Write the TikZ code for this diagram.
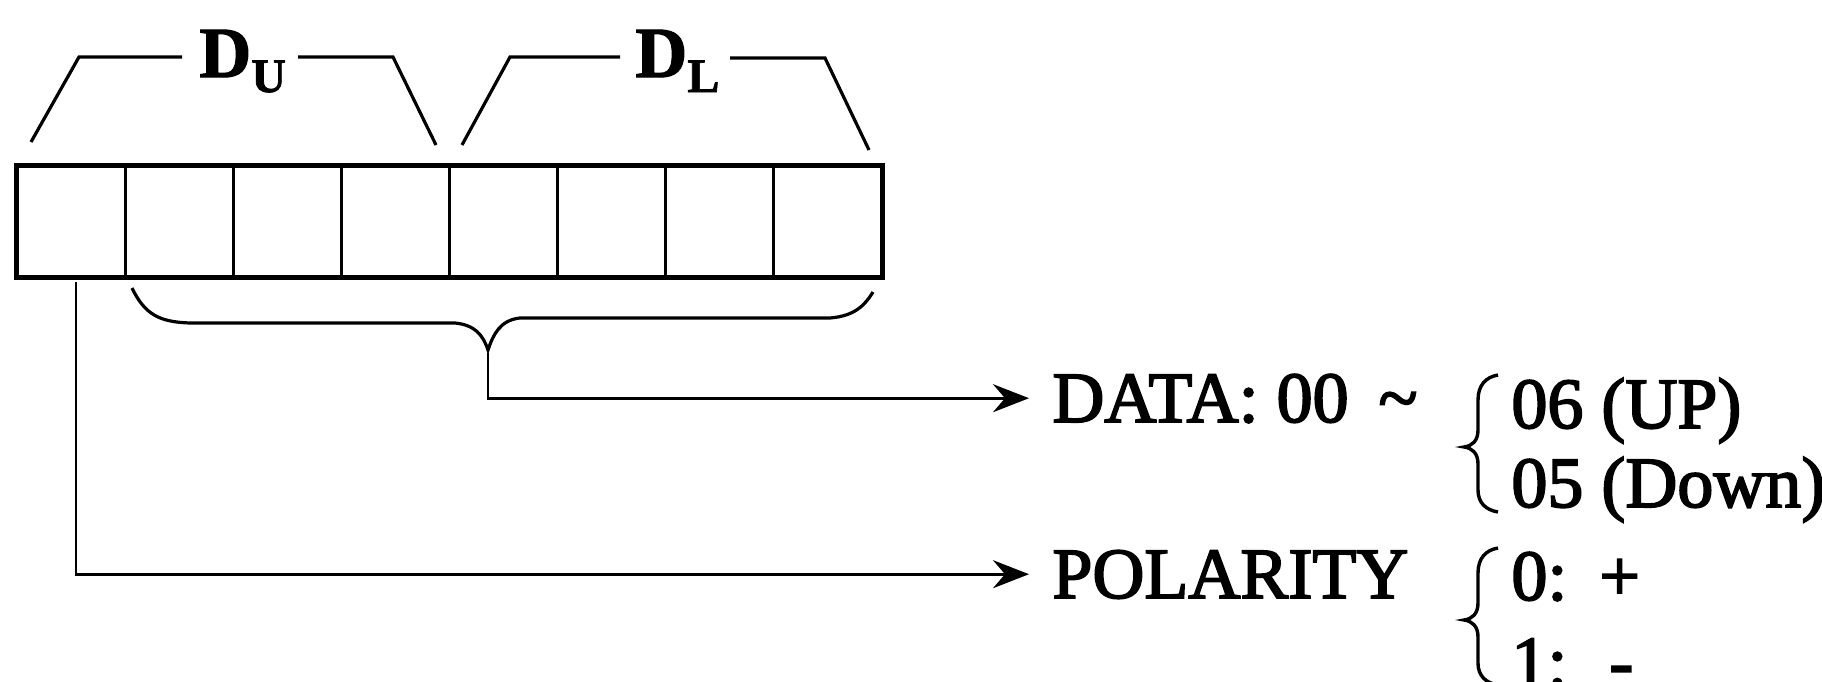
\documentclass[tikz,border=0pt]{standalone}
\usepackage{fontspec}
\setmainfont{Liberation Serif}[FakeBold=2.5]
\newfontfamily\heavyserif{Liberation Serif}[BoldFont={Liberation Serif Bold}, BoldFeatures={FakeBold=1.5}]
\usetikzlibrary{arrows.meta}
\tikzset{
  cellbox/.style={draw, line width=1.3pt, minimum width=54pt, minimum height=55pt, inner sep=0pt, anchor=north west},
  outline/.style={line width=2pt},
  bracket/.style={line width=1.6pt},
  conn/.style={line width=1.4pt, -{Stealth[length=18pt,width=14pt,inset=6pt]}},
  lbl/.style={font=\fontsize{36}{40}\selectfont\addfontfeature{FakeBold=2.5}, inner sep=0pt, anchor=base west},
  txt/.style={font=\fontsize{36}{40}\selectfont\addfontfeature{FakeBold=2.5}, text height=23.8pt, text depth=0pt, inner xsep=11.5pt, inner ysep=0pt, anchor=base west},
  curlyb/.pic={\draw[line width=1.7pt] (0,0) .. controls (-12,2) and (-20,10) .. (-20,25) -- (-20,55) .. controls (-20,66) and (-26,71) .. (-34,72) .. controls (-26,73) and (-20,78) .. (-20,89) -- (-20,115) .. controls (-20,128) and (-12,135) .. (0,137);}
}
\begin{document}
\begin{tikzpicture}[x=0.5pt,y=-0.5pt]
\useasboundingbox (0,0) rectangle (1822,681);
\clip (0,0) rectangle (1822,681);
% register cells
\foreach \i in {1,...,8} \node[cellbox] (c\i) at ({16+108*(\i-1)},165) {};
\draw[outline] (c1.north west) rectangle (c8.south east);
% upper labels and brackets
\node[inner sep=0pt, anchor=base west] (du) at (199,77) {\heavyserif\fontsize{36}{40}\selectfont\bfseries D\raisebox{-7.5pt}{\fontsize{24}{26}\selectfont U}};
\node[inner sep=0pt, anchor=base west] (dl) at (635,77) {\heavyserif\fontsize{36}{40}\selectfont\bfseries D\raisebox{-7.5pt}{\fontsize{24}{26}\selectfont L}};
\draw[bracket] (31,142) -- (79,57) -- (182,57);
\draw[bracket] (298,57) -- (393,57) -- (436,145);
\draw[bracket] (462,145) -- (510,57) -- (620,57);
\draw[bracket] (730,58) -- (825,58) -- (869,150);
% lower brace
\draw[bracket] (132,288) .. controls (145,315) and (160,322) .. (190,323) -- (455,323) .. controls (475,325) and (483,335) .. (488,350) .. controls (493,335) and (500,320) .. (520,318) -- (830,318) .. controls (855,316) and (865,305) .. (873,292);
\coordinate (btip) at (488,353);
\coordinate (p0) at (76,282);
% right-hand texts
\node[txt] (data) at (1029,422) {DATA: 00 \,\textasciitilde};
\node[txt] (pol) at (1029,598) {POLARITY};
\node[lbl] (up) at (1511,428) {06 (UP)};
\node[lbl] (down) at (1511,507) {05 (Down)};
\node[lbl] (plus) at (1511,600) {0:\hspace{16pt}+};
\node[lbl] (minus) at (1511,686) {1:\hspace{21pt}-};
\pic at (1498,375) {curlyb};
\pic at (1498,548) {curlyb};
% connectors
\draw[conn] (btip) |- (data.west);
\draw[conn] (p0) |- (pol.west);
\end{tikzpicture}
\end{document}
